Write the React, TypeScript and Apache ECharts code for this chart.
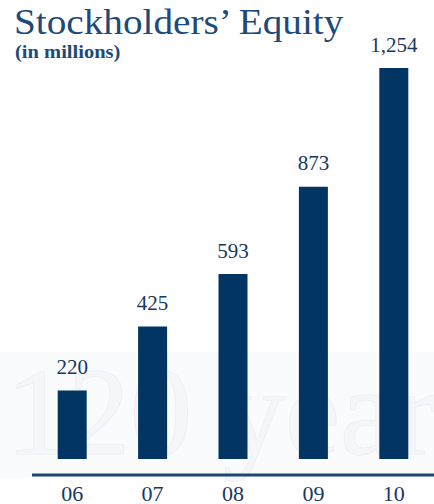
import React, { useEffect, useRef } from "react";
import * as echarts from "echarts";

const categories = ["06", "07", "08", "09", "10"];
const equity = [220, 425, 593, 873, 1254];
const titleText = "Stockholders’ Equity";
const subtitleText = "(in millions)";
const watermarkText = "120 years";

const SERIF = "Liberation Serif";
const BAR = "#023564";
const TEXT = "#17385f";

export default function App() {
  const ref = useRef<HTMLDivElement>(null);
  useEffect(() => {
    if (!ref.current) return;
    const chart = echarts.init(ref.current, null, { renderer: "svg" });
    chart.setOption({
      animation: false,
      backgroundColor: "#ffffff",
      grid: { left: 32, right: -15, top: 68, bottom: 43 },
      graphic: [
        {
          type: "rect",
          z: -10,
          silent: true,
          shape: { x: 0, y: 352, width: 434, height: 126 },
          style: { fill: "#fafbfc" },
        },
        {
          type: "text",
          z: -5,
          silent: true,
          x: 6,
          y: 350,
          style: {
            text: watermarkText,
            fontFamily: SERIF,
            fontSize: 124,
            fill: "#f4f6f9",
            stroke: "#e6ebf1",
            lineWidth: 1.2,
            verticalAlign: "top",
          },
        },
        {
          type: "line",
          z: 10,
          silent: true,
          shape: { x1: 32, y1: 475, x2: 434, y2: 475 },
          style: { stroke: "#1b4777", lineWidth: 3 },
        },
        {
          type: "text",
          x: 14,
          y: 4,
          scaleX: 1.09,
          style: {
            text: titleText,
            fontFamily: SERIF,
            fontSize: 36,
            fill: "#1d4a78",
            textShadowColor: "#b9c7d8",
            textShadowOffsetX: 1.5,
            textShadowOffsetY: 1.5,
            textShadowBlur: 0,
            verticalAlign: "top",
          },
        },
        {
          type: "text",
          x: 15,
          y: 42,
          scaleX: 1.08,
          style: {
            text: subtitleText,
            fontFamily: SERIF,
            fontSize: 19,
            fontWeight: "bold",
            fill: "#1d4a78",
            textShadowColor: "#c3cfdd",
            textShadowOffsetX: 1,
            textShadowOffsetY: 1,
            textShadowBlur: 0,
            verticalAlign: "top",
          },
        },
      ],
      xAxis: {
        type: "category",
        data: categories,
        offset: 14,
        axisLine: { show: false },
        axisTick: { show: false },
        axisLabel: { fontFamily: SERIF, fontSize: 22, color: TEXT, margin: 9 },
      },
      yAxis: {
        type: "value",
        min: 0,
        max: 1254,
        show: false,
        splitLine: { show: false },
      },
      series: [
        {
          type: "bar",
          data: equity,
          barWidth: 29,
          itemStyle: { color: BAR },
          label: {
            show: true,
            position: "top",
            distance: 13,
            fontFamily: SERIF,
            fontSize: 21,
            color: TEXT,
            formatter: (p: any) => Number(p.value).toLocaleString("en-US"),
          },
        },
      ],
    });
    return () => chart.dispose();
  }, []);
  return (
    <div
      ref={ref}
      style={{ position: "absolute", left: 0, top: 0, width: 434, height: 504 }}
    />
  );
}
